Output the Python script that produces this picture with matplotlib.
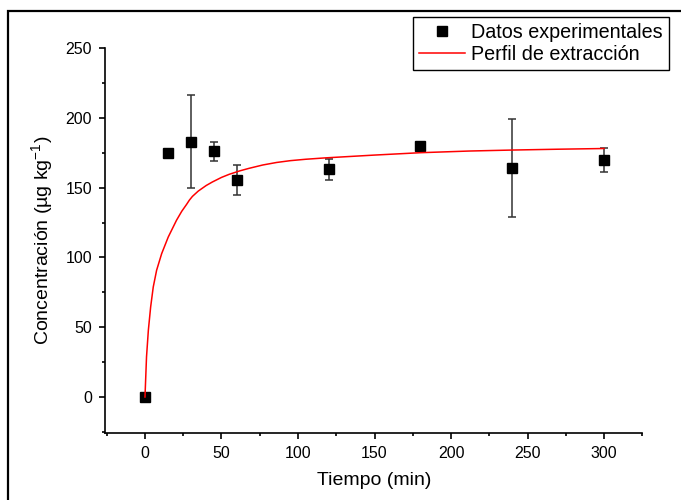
import matplotlib
matplotlib.use('Agg')
import matplotlib.pyplot as plt
from matplotlib.patches import Rectangle
from matplotlib.ticker import MultipleLocator

plt.rcParams['font.family'] = ['Liberation Sans', 'DejaVu Sans']

t_exp = [0, 15, 30, 45, 60, 120, 180, 240, 300]
c_exp = [0, 175, 183, 176, 155.5, 163, 180, 164, 169.5]
err_exp = [0, 2, 33, 7, 11, 7.7, 2, 35, 8.6]

# extraction profile curve
t_fit = [0, 1.0, 2.2, 3.7, 5.4, 7.6, 10.9, 15.2, 20.6, 24, 27.2, 29, 31, 34.8, 40,
         44, 50, 55, 62, 68, 77, 86, 95, 105, 118, 150, 180, 212, 240, 270, 300]
c_fit = [0, 28.7, 47.8, 64.5, 78.8, 90.8, 102.7, 114.6, 126.6, 133, 138, 141,
         143.7, 147.5, 151.5, 154, 157.3, 159.5, 162, 163.8, 166.2, 168, 169.3,
         170.3, 171.3, 173.3, 175, 176.2, 176.9, 177.5, 178]

fig = plt.figure(figsize=(6.81, 5), dpi=100)
W, H = 681., 500.
ax = fig.add_axes([105.2/W, 1-433.3/H, (642.3-105.2)/W, (433.3-48)/H])

ax.errorbar(t_exp, c_exp, yerr=err_exp, fmt='none', ecolor='#333333',
            elinewidth=1.1, capsize=3, capthick=1.1, zorder=2)
ax.plot(t_exp, c_exp, 's', color='black', markersize=6.5, zorder=3,
        label='Datos experimentales')
ax.plot(t_fit, c_fit, '-', color='red', lw=1.1, zorder=4,
        label='Perfil de extracción')

ax.set_xlim(-26, 325)
ax.set_ylim(-26, 250)
ax.xaxis.set_minor_locator(MultipleLocator(25))
ax.yaxis.set_minor_locator(MultipleLocator(25))
ax.set_xticks(range(0, 301, 50))
ax.set_yticks(range(0, 251, 50))

for s in ['top', 'right']:
    ax.spines[s].set_visible(False)
for s in ['left', 'bottom']:
    ax.spines[s].set_linewidth(1.2)
ax.tick_params(which='major', direction='out', length=4.5, width=1.2,
               labelsize=11.5, pad=5)
ax.tick_params(which='minor', direction='out', length=2.5, width=1.2)

ax.set_xlabel('Tiempo (min)', fontsize=14)
ax.set_ylabel('Concentración (µg kg$^{\\mathregular{-1}}$)', fontsize=14)
ax.xaxis.set_label_coords(0.5, -0.100)
ax.yaxis.set_label_coords(-0.0916, 0.5)

leg = ax.legend(loc='upper right', bbox_to_anchor=(669/W, 1-17/H),
                bbox_transform=fig.transFigure, fontsize=14.2, frameon=True,
                fancybox=False, borderpad=0.3, labelspacing=0.17,
                handlelength=2.3, handletextpad=0.35, borderaxespad=0)
leg.get_frame().set_edgecolor('black')
leg.get_frame().set_linewidth(1.0)
leg.get_frame().set_alpha(1)

# outer frame (only top and left edges fall inside the image)
fig.patches.append(Rectangle((8/W, -0.1), 1.2, 1-11/H+0.1, transform=fig.transFigure,
                             fill=False, edgecolor='black', lw=1.6))

fig.savefig('out.png', dpi=100)
